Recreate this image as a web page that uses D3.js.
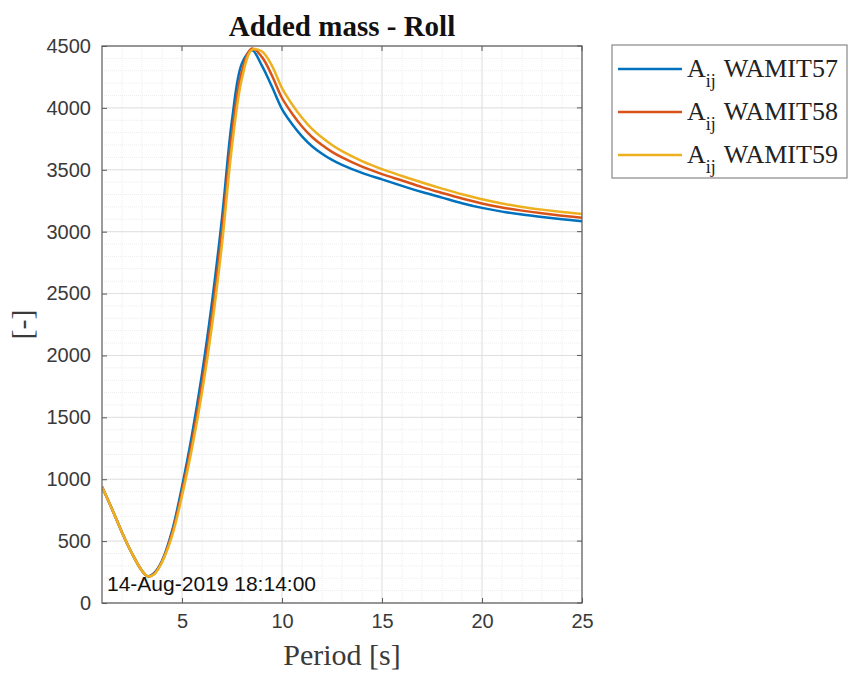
<!DOCTYPE html>
<html>
<head>
<meta charset="utf-8">
<script src="https://cdn.jsdelivr.net/npm/d3@7"></script>
<style>
  body { margin: 0; background: #fff; }
</style>
</head>
<body>
<div class="chart"></div>
<script>
const periods = [1, 1.5, 2, 2.5, 3, 3.3, 3.6, 4, 4.5, 5, 5.5, 6, 6.5, 7, 7.5, 8, 8.5, 9, 9.5, 10,
  10.5, 11, 11.5, 12, 12.5, 13, 14, 15, 16, 17, 18, 19, 20, 21, 22, 23, 24, 25];

const wamit57 = [940, 760, 570, 400, 260, 215, 240, 340, 580, 940, 1360, 1850, 2430, 3110, 3900, 4360, 4465, 4340, 4170, 3990,
  3870, 3770, 3690, 3630, 3580, 3540, 3475, 3422, 3370, 3320, 3275, 3230, 3192, 3162, 3138, 3118, 3100, 3085];
const wamit58 = [940, 760, 570, 400, 260, 215, 235, 335, 560, 900, 1300, 1770, 2330, 3000, 3790, 4300, 4480, 4410, 4260, 4080,
  3955, 3850, 3765, 3700, 3645, 3600, 3525, 3465, 3413, 3360, 3313, 3268, 3228, 3196, 3170, 3148, 3129, 3113];
const wamit59 = [940, 760, 570, 400, 260, 215, 230, 330, 540, 865, 1250, 1700, 2240, 2900, 3690, 4240, 4470, 4455, 4340, 4160,
  4030, 3920, 3830, 3760, 3700, 3650, 3570, 3505, 3450, 3397, 3348, 3302, 3262, 3228, 3200, 3178, 3159, 3143];

const seriesNames = ["WAMIT57", "WAMIT58", "WAMIT59"];
const xTicks = [5, 10, 15, 20, 25];
const yTicks = [0, 500, 1000, 1500, 2000, 2500, 3000, 3500, 4000, 4500];

const width = 850,
  height = 675,
  plotLeft = 102,
  plotRight = 582,
  plotTop = 46,
  plotBottom = 603,
  colors = ["#0072BD", "#D95319", "#EDB120"];

const svg = d3
  .select(".chart")
  .append("svg")
  .attr("width", width)
  .attr("height", height);

const xScale = d3.scaleLinear().domain([1, 25]).range([plotLeft, plotRight]);
const yScale = d3.scaleLinear().domain([0, 4500]).range([plotBottom, plotTop]);

// minor grid
svg
  .append("g")
  .selectAll("line")
  .data(d3.range(2, 25))
  .enter()
  .append("line")
  .attr("x1", (d) => xScale(d))
  .attr("x2", (d) => xScale(d))
  .attr("y1", plotTop)
  .attr("y2", plotBottom)
  .attr("stroke", "#ededed")
  .attr("stroke-dasharray", "1,1");

svg
  .append("g")
  .selectAll("line")
  .data(d3.range(100, 4500, 100))
  .enter()
  .append("line")
  .attr("x1", plotLeft)
  .attr("x2", plotRight)
  .attr("y1", (d) => yScale(d))
  .attr("y2", (d) => yScale(d))
  .attr("stroke", "#ededed")
  .attr("stroke-dasharray", "1,1");

// major grid
svg
  .append("g")
  .selectAll("line")
  .data(xTicks)
  .enter()
  .append("line")
  .attr("x1", (d) => xScale(d))
  .attr("x2", (d) => xScale(d))
  .attr("y1", plotTop)
  .attr("y2", plotBottom)
  .attr("stroke", "#e0e0e0");

svg
  .append("g")
  .selectAll("line")
  .data(yTicks)
  .enter()
  .append("line")
  .attr("x1", plotLeft)
  .attr("x2", plotRight)
  .attr("y1", (d) => yScale(d))
  .attr("y2", (d) => yScale(d))
  .attr("stroke", "#e0e0e0");

svg
  .append("clipPath")
  .attr("id", "plotClip")
  .append("rect")
  .attr("x", plotLeft)
  .attr("y", plotTop)
  .attr("width", plotRight - plotLeft)
  .attr("height", plotBottom - plotTop);

const allSeries = [wamit57, wamit58, wamit59];

const line = d3
  .line()
  .x((d, i) => xScale(periods[i]))
  .y((d) => yScale(d))
  .curve(d3.curveCatmullRom);

svg
  .append("g")
  .attr("clip-path", "url(#plotClip)")
  .selectAll("path")
  .data(allSeries)
  .enter()
  .append("path")
  .attr("d", (d) => line(d))
  .attr("fill", "none")
  .attr("stroke", (d, i) => colors[i])
  .attr("stroke-width", 2.5);

// axes
const axisColor = "#5a5a5a";
const xAxis = d3.axisBottom(xScale).tickValues(xTicks).tickSize(-5).tickPadding(11);
const yAxis = d3
  .axisLeft(yScale)
  .tickValues(yTicks)
  .tickFormat(d3.format("d"))
  .tickSize(-5)
  .tickPadding(11);

const gx = svg
  .append("g")
  .attr("transform", `translate(0, ${plotBottom})`)
  .call(xAxis);
const gy = svg
  .append("g")
  .attr("transform", `translate(${plotLeft}, 0)`)
  .call(yAxis);

[gx, gy].forEach((g) => {
  g.select(".domain").remove();
  g.selectAll("line").attr("stroke", axisColor);
  g.selectAll("text")
    .style("font", "20px 'Liberation Sans', Arial, sans-serif")
    .attr("fill", "#3a3a3a");
});

// top/right ticks
svg
  .append("g")
  .selectAll("line")
  .data(xTicks)
  .enter()
  .append("line")
  .attr("x1", (d) => xScale(d))
  .attr("x2", (d) => xScale(d))
  .attr("y1", plotTop)
  .attr("y2", plotTop + 5)
  .attr("stroke", axisColor);

svg
  .append("g")
  .selectAll("line")
  .data(yTicks)
  .enter()
  .append("line")
  .attr("x1", plotRight)
  .attr("x2", plotRight - 5)
  .attr("y1", (d) => yScale(d))
  .attr("y2", (d) => yScale(d))
  .attr("stroke", axisColor);

svg
  .append("rect")
  .attr("x", plotLeft)
  .attr("y", plotTop)
  .attr("width", plotRight - plotLeft)
  .attr("height", plotBottom - plotTop)
  .attr("fill", "none")
  .attr("stroke", axisColor)
  .attr("stroke-width", 1.2);

// labels
svg
  .append("text")
  .text("Added mass - Roll")
  .attr("x", (plotLeft + plotRight) / 2)
  .attr("y", 36)
  .attr("text-anchor", "middle")
  .style("font", "bold 29px 'Liberation Serif', 'Times New Roman', serif")
  .attr("fill", "#111");

svg
  .append("text")
  .text("Period [s]")
  .attr("x", (plotLeft + plotRight) / 2)
  .attr("y", 665)
  .attr("text-anchor", "middle")
  .style("font", "30px 'Liberation Serif', 'Times New Roman', serif")
  .attr("fill", "#3a3a3a");

svg
  .append("text")
  .text("[-]")
  .attr("transform", `translate(32, ${(plotTop + plotBottom) / 2}) rotate(-90)`)
  .attr("text-anchor", "middle")
  .style("font", "30px 'Liberation Serif', 'Times New Roman', serif")
  .attr("fill", "#3a3a3a");

svg
  .append("text")
  .text("14-Aug-2019 18:14:00")
  .attr("x", 107)
  .attr("y", 591)
  .style("font", "21px 'Liberation Sans', Arial, sans-serif")
  .attr("fill", "#111");

// legend
const legend = svg.append("g").attr("transform", "translate(612, 45)");

legend
  .append("rect")
  .attr("width", 235)
  .attr("height", 133)
  .attr("fill", "#fff")
  .attr("stroke", "#888")
  .attr("stroke-width", 1.2);

const legendRows = legend
  .selectAll(".row")
  .data(seriesNames)
  .enter()
  .append("g")
  .attr("transform", (d, i) => `translate(0, ${24 + i * 43})`);

legendRows
  .append("line")
  .attr("x1", 6)
  .attr("x2", 70)
  .attr("stroke", (d, i) => colors[i])
  .attr("stroke-width", 2.5);

const legendText = legendRows
  .append("text")
  .attr("x", 75)
  .attr("y", 8)
  .style("font", "26px 'Liberation Serif', 'Times New Roman', serif")
  .attr("fill", "#222");

legendText.append("tspan").text("A");
legendText
  .append("tspan")
  .text("ij")
  .attr("dy", 10)
  .style("font-size", "18px");
legendText
  .append("tspan")
  .text((d) => d)
  .attr("dy", -10)
  .attr("dx", 8);
</script>
</body>
</html>
